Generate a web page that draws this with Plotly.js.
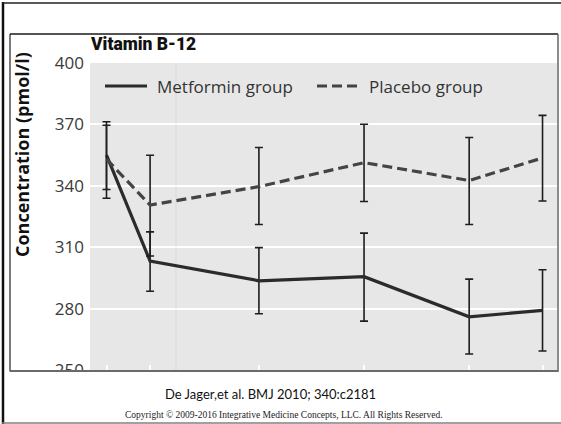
<!DOCTYPE html>
<html>
<head>
<meta charset="utf-8">
<script src="https://cdn.plot.ly/plotly-3.0.1.min.js"></script>
<style>
html,body{margin:0;padding:0;background:#fff;}
#chart{width:561px;height:424px;}
</style>
</head>
<body>
<div id="chart"></div>
<script>
// ---- data ----
// horizontal position of each visit (months-like units, as spaced in the chart)
const visitX = [0, 5.35, 18.7, 31.6, 44.5, 53.5];
const metforminMean = [355.0, 303.2, 293.6, 295.6, 276.0, 279.1];
const metforminHigh = [371.3, 317.5, 309.8, 316.9, 294.4, 299.0];
const metforminLow  = [333.9, 288.5, 277.5, 273.9, 257.8, 259.3];
const placeboMean   = [353.0, 330.6, 339.6, 351.3, 342.6, 353.6];
const placeboHigh   = [369.6, 354.9, 358.7, 370.1, 363.6, 374.4];
const placeboLow    = [338.2, 305.7, 321.1, 332.3, 321.1, 332.6];
const yTicks = [250, 280, 310, 340, 370, 400];
const seriesNames = ["Metformin group", "Placebo group"];
const chartTitle = "Vitamin B-12";
const yTitle = "Concentration (pmol/l)";
const citation = "De Jager,et al. BMJ 2010; 340:c2181";
const copyright = "Copyright \u00A9 2009-2016 Integrative Medicine Concepts, LLC. All Rights Reserved.";

// ---- layout geometry (pixels) ----
const W = 561, H = 424, L = 90, R = 557, T = 63, B = 370;
const px = p => (p - L) / (R - L);
const py = p => (B - p) / (B - T);

const up = (hi, m) => hi.map((v, i) => +(v - m[i]).toFixed(2));
const dn = (lo, m) => lo.map((v, i) => +(m[i] - v).toFixed(2));

const traces = [
  {
    type: "scatter", mode: "lines", name: seriesNames[0],
    x: visitX, y: metforminMean,
    line: {color: "#2b2b2b", width: 3.2},
    error_y: {type: "data", symmetric: false,
      array: up(metforminHigh, metforminMean), arrayminus: dn(metforminLow, metforminMean),
      color: "#1e1e1e", thickness: 1.6, width: 4},
    showlegend: false
  },
  {
    type: "scatter", mode: "lines", name: seriesNames[1],
    x: visitX, y: placeboMean,
    line: {color: "#444444", width: 3.2, dash: "10px,5px"},
    error_y: {type: "data", symmetric: false,
      array: up(placeboHigh, placeboMean), arrayminus: dn(placeboLow, placeboMean),
      color: "#1e1e1e", thickness: 1.6, width: 4},
    showlegend: false
  }
];

const hline = (x0, x1, y, color, w, dash) => ({type: "line", xref: "paper", yref: "paper",
  x0: px(x0), x1: px(x1), y0: py(y), y1: py(y), line: {color: color, width: w, dash: dash || "solid"}, layer: "above"});
const vline = (x, y0, y1, color, w) => ({type: "line", xref: "paper", yref: "paper",
  x0: px(x), x1: px(x), y0: py(y0), y1: py(y1), line: {color: color, width: w}, layer: "above"});

const shapes = [
  // faint vertical artefact line in plot
  vline(176, T, B, "rgba(0,0,0,0.06)", 1),
  // mask lower part of the "250" label
  {type: "rect", xref: "paper", yref: "paper", x0: px(11), x1: px(89), y0: py(372), y1: py(388),
   fillcolor: "#ffffff", line: {width: 0}, layer: "above"},
  // inner picture frame
  vline(10, 34, 371.5, "#222222", 1.2),
  hline(10, 558, 34, "#1a1a1a", 1.5),
  vline(558, 34, 371.5, "#666666", 1.5),
  hline(10, 558.5, 371, "#6a6a6a", 2),
  // outer slide frame
  vline(3, 2, 424, "#111111", 2.5),
  hline(2, 561, 3, "#222222", 1.5),
  hline(2, 561, 423, "#808080", 1.5),
  // legend samples
  hline(105, 147, 86, "#2b2b2b", 3.2),
  hline(317, 358, 86, "#444444", 3.2, "10px,5px")
];

const ann = (text, x, y, xanchor, font, extra) => Object.assign({text: text, xref: "paper", yref: "paper",
  x: px(x), y: py(y), xanchor: xanchor, yanchor: "middle", showarrow: false, font: font}, extra || {});

const annotations = [
  ann(chartTitle, 88, 44, "left",
      {family: "Roboto, Open Sans", size: 17.5, color: "#111111", weight: 900}),
  ann("<b>" + yTitle + "</b>", 22, 155, "center",
      {family: "Open Sans", size: 18, color: "#111111"}, {textangle: -90}),
  ann(seriesNames[0], 155, 86, "left", {family: "Open Sans", size: 17, color: "#333333"}),
  ann(seriesNames[1], 367, 86, "left", {family: "Open Sans", size: 17, color: "#333333"}),
  ann(citation, 270, 394, "center", {family: "Lato", size: 13, color: "#111111"}),
  ann(copyright, 284, 415, "center", {family: "Liberation Serif", size: 9.5, color: "#222222"})
];

// x range chosen so visits sit where they do in the reference (baseline at 106.5 px, ~8.15 px per unit)
function px2val(p) { return (p - 106.5) / 8.15; }

const layout = {
  width: W, height: H,
  margin: {l: L, r: W - R, t: T, b: H - B, pad: 0},
  paper_bgcolor: "#ffffff",
  plot_bgcolor: "#e7e7e7",
  showlegend: false,
  xaxis: {
    range: [px2val(L), px2val(R)],
    tickmode: "array", tickvals: visitX, ticks: "inside", ticklen: 5, tickwidth: 2, tickcolor: "#ffffff",
    showticklabels: false, showgrid: false, zeroline: false, showline: false, fixedrange: true
  },
  yaxis: {
    range: [250, 400],
    tickmode: "array", tickvals: yTicks, ticks: "", showgrid: true, gridcolor: "#ffffff", gridwidth: 2,
    zeroline: false, showline: false, ticklabelstandoff: 5,
    tickfont: {family: "Open Sans", size: 17, color: "#3a3a3a"}, fixedrange: true
  },
  shapes: shapes,
  annotations: annotations
};

Plotly.newPlot("chart", traces, layout, {staticPlot: true, displayModeBar: false});
</script>
</body>
</html>
